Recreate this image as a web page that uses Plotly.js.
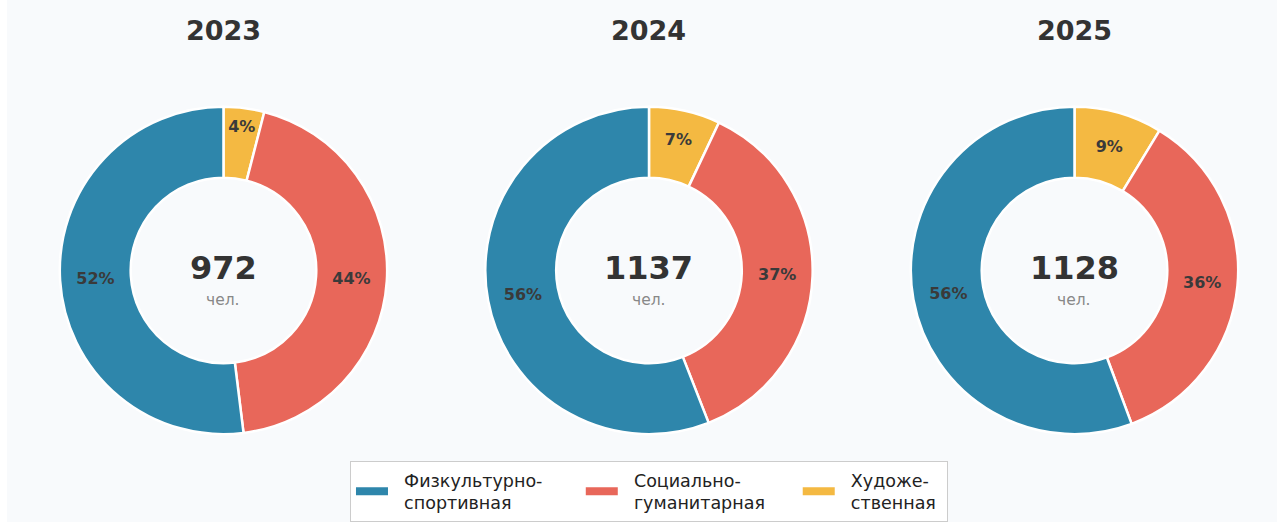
<!DOCTYPE html>
<html>
<head>
<meta charset="utf-8">
<script src="https://cdn.plot.ly/plotly-3.0.1.min.js"></script>
<style>
  html, body { margin: 0; padding: 0; background: #ffffff; }
  #chart { position: absolute; left: 7px; top: 0; width: 1270px; height: 522px; }
</style>
</head>
<body>
<div id="chart"></div>
<script>
// ---- Data ----
const years = ['2023', '2024', '2025'];
const categories = ['Физкультурно-спортивная', 'Социально-гуманитарная', 'Художественная'];
const legendLines = [['Физкультурно-', 'спортивная'], ['Социально-', 'гуманитарная'], ['Художе-', 'ственная']];
const sportValues = [505, 636, 628];
const socialValues = [428, 421, 402];
const artValues = [39, 80, 98];
const unitLabel = 'чел.';

// ---- Styles ----
const colors = ['#2E86AB', '#E8675A', '#F4B942'];
const bg = '#f8fafc';
const font = 'DejaVu Sans, Liberation Sans, sans-serif';
const xDomains = [[0.0413, 0.2996], [0.3764, 0.6346], [0.7114, 0.9697]];
const yDomain = [0.1667, 0.7950];
const NB = '\u00A0';

const traces = [];
const annotations = [];

years.forEach((yr, i) => {
  const vals = [sportValues[i], socialValues[i], artValues[i]];
  const total = vals.reduce((a, b) => a + b, 0);
  // drawn clockwise from 12 o'clock: Художественная, Социально-гуманитарная, Физкультурно-спортивная
  const order = [2, 1, 0];
  traces.push({
    type: 'pie',
    labels: order.map(k => categories[k]),
    values: order.map(k => vals[k]),
    hole: 0.567,
    sort: false,
    direction: 'clockwise',
    rotation: 0,
    domain: { x: xDomains[i], y: yDomain },
    marker: { colors: order.map(k => colors[k]), line: { color: '#ffffff', width: 2.5 } },
    texttemplate: '%{percent:.0%}',
    textposition: 'inside',
    insidetextorientation: 'horizontal',
    textfont: { family: font, size: 16, color: '#3a3a3a', weight: 'bold' },
    hoverinfo: 'skip',
    showlegend: false
  });
  const cx = (xDomains[i][0] + xDomains[i][1]) / 2;
  annotations.push({
    text: yr, x: cx, y: 0.9406, xref: 'paper', yref: 'paper',
    xanchor: 'center', yanchor: 'middle', showarrow: false,
    font: { family: font, size: 27, color: '#333333', weight: 'bold' }
  });
  annotations.push({
    text: String(total), x: cx, y: 0.4847, xref: 'paper', yref: 'paper',
    xanchor: 'center', yanchor: 'middle', showarrow: false,
    font: { family: font, size: 32, color: '#333333', weight: 'bold' }
  });
  annotations.push({
    text: unitLabel, x: cx, y: 0.4234, xref: 'paper', yref: 'paper',
    xanchor: 'center', yanchor: 'middle', showarrow: false,
    font: { family: font, size: 15.5, color: '#888888' }
  });
});

// legend-only traces (padding with non-breaking spaces to mimic spacing)
const padAfter = [6, 5, 1];
categories.forEach((c, k) => {
  const lines = legendLines[k].map(s => NB + NB + s);
  const longest = lines[0].length >= lines[1].length ? 0 : 1;
  lines[longest] = lines[longest] + NB.repeat(padAfter[k]);
  traces.push({
    type: 'scatter', mode: 'lines', x: [null], y: [null],
    name: lines.join('<br>'),
    line: { color: colors[k], width: 8 },
    hoverinfo: 'skip', showlegend: true
  });
});

const layout = {
  width: 1270, height: 522,
  margin: { l: 0, r: 0, t: 0, b: 0 },
  paper_bgcolor: bg, plot_bgcolor: 'rgba(0,0,0,0)',
  xaxis: { visible: false }, yaxis: { visible: false },
  annotations: annotations,
  showlegend: true,
  legend: {
    orientation: 'h', x: 0.5055, xanchor: 'center', y: 0.1149, yanchor: 'top',
    bgcolor: '#ffffff', bordercolor: '#cccccc', borderwidth: 1,
    font: { family: font, size: 17.5, color: '#222222' },
    itemwidth: 32,
    traceorder: 'normal'
  }
};

Plotly.newPlot('chart', traces, layout, { displayModeBar: false, staticPlot: true });
</script>
</body>
</html>
